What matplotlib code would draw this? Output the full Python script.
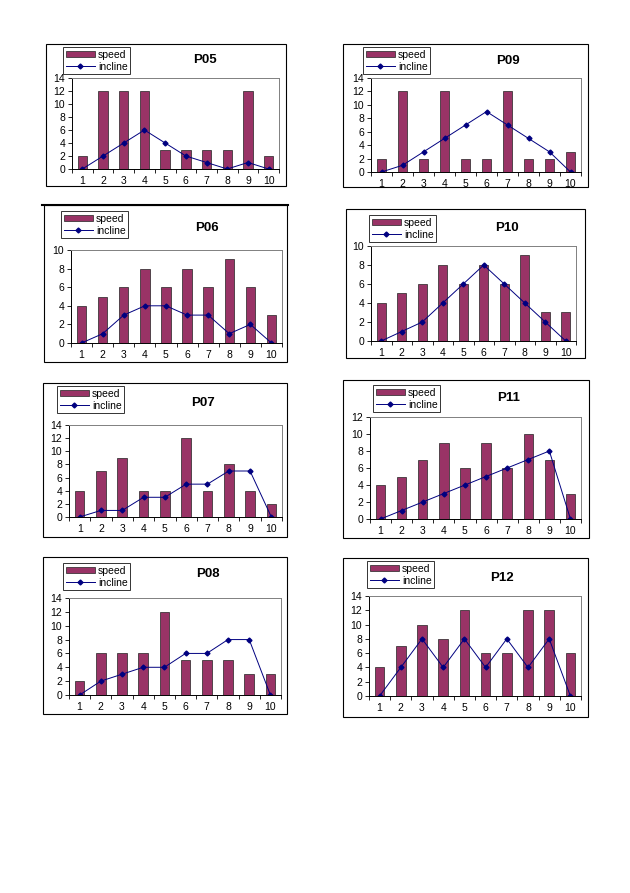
import matplotlib
matplotlib.use("Agg")
import matplotlib.pyplot as plt
from matplotlib.patches import Rectangle
from matplotlib.lines import Line2D

plt.rcParams['font.family'] = ['Liberation Sans', 'DejaVu Sans']

# data
steps = [1, 2, 3, 4, 5, 6, 7, 8, 9, 10]

p05_speed = [2, 12, 12, 12, 3, 3, 3, 3, 12, 2]
p05_incline = [0, 2, 4, 6, 4, 2, 1, 0, 1, 0]
p09_speed = [2, 12, 2, 12, 2, 2, 12, 2, 2, 3]
p09_incline = [0, 1, 3, 5, 7, 9, 7, 5, 3, 0]
p06_speed = [4, 5, 6, 8, 6, 8, 6, 9, 6, 3]
p06_incline = [0, 1, 3, 4, 4, 3, 3, 1, 2, 0]
p10_speed = [4, 5, 6, 8, 6, 8, 6, 9, 3, 3]
p10_incline = [0, 1, 2, 4, 6, 8, 6, 4, 2, 0]
p07_speed = [4, 7, 9, 4, 4, 12, 4, 8, 4, 2]
p07_incline = [0, 1, 1, 3, 3, 5, 5, 7, 7, 0]
p11_speed = [4, 5, 7, 9, 6, 9, 6, 10, 7, 3]
p11_incline = [0, 1, 2, 3, 4, 5, 6, 7, 8, 0]
p08_speed = [2, 6, 6, 6, 12, 5, 5, 5, 3, 3]
p08_incline = [0, 2, 3, 4, 4, 6, 6, 8, 8, 0]
p12_speed = [4, 7, 10, 8, 12, 6, 6, 12, 12, 6]
p12_incline = [0, 4, 8, 4, 8, 4, 8, 4, 8, 0]

W, H = 630, 893
fig = plt.figure(figsize=(W / 100, H / 100), dpi=100)

BAR = '#993366'
LINE = '#000080'


def fx(x):
    return x / W


def fy(y):
    return 1 - y / H


def panel(name, speed, incline, ymax, frame, plot, leg, title_xy):
    # outer frame of the little chart
    fl, ft, fr, fb = frame
    fig.patches.append(Rectangle((fx(fl), fy(fb)), fx(fr - fl), (fb - ft) / H,
                                 transform=fig.transFigure, fill=False,
                                 edgecolor='black', linewidth=0.8))
    pl, pt, pr, pb = plot
    ax = fig.add_axes([fx(pl), fy(pb), fx(pr - pl), (pb - pt) / H])
    bars = ax.bar(steps, speed, width=0.45, color=BAR, edgecolor='#222222',
                  linewidth=0.5, label='speed')
    ln, = ax.plot(steps, incline, color=LINE, linewidth=0.7, marker='D',
                  markersize=2.5, label='incline')
    ax.set_xlim(0.5, 10.5)
    ax.set_ylim(0, ymax)
    ax.set_yticks(range(0, ymax + 1, 2))
    ax.set_xticks(steps)
    ax.set_xticks([s + 0.5 for s in range(0, 11)], minor=True)
    ax.tick_params(axis='x', which='major', length=0, labelsize=7.5, pad=5)
    ax.tick_params(axis='x', which='minor', length=3, direction='out', width=0.6)
    ax.tick_params(axis='y', length=3, direction='out', labelsize=7.5, pad=2, width=0.6)
    ax.spines['top'].set_color('#808080')
    ax.spines['right'].set_color('#808080')
    for s in ['top', 'right', 'left', 'bottom']:
        ax.spines[s].set_linewidth(0.7)

    ll, lt, lr, lb = leg
    lg = ax.legend(handles=[bars, ln], loc='upper left',
                   bbox_to_anchor=(fx(ll), fy(lt)), bbox_transform=fig.transFigure,
                   fontsize=7.5, frameon=True, fancybox=False, borderpad=0.25,
                   labelspacing=0.2, handlelength=2.8, handleheight=0.6,
                   handletextpad=0.3, borderaxespad=0)
    lg.get_frame().set_edgecolor('black')
    lg.get_frame().set_linewidth(0.7)
    fig.text(fx(title_xy[0]), fy(title_xy[1]), name, ha='center', va='center',
             fontsize=9.5, fontweight='bold')
    return ax


panel('P05', p05_speed, p05_incline, 14, (46, 44, 286, 186), (72, 78, 279, 169),
      (63, 47, 132, 74), (205, 60))
panel('P09', p09_speed, p09_incline, 14, (343, 44, 588, 187), (371, 78, 581, 172),
      (363, 47, 434, 74), (508, 61))
panel('P06', p06_speed, p06_incline, 10, (44, 205, 287, 362), (71, 250, 282, 343),
      (61, 211, 132, 240), (207, 228))
panel('P10', p10_speed, p10_incline, 10, (346, 209, 585, 358), (371, 246, 576, 341),
      (369, 215, 438, 242), (507, 228))
panel('P07', p07_speed, p07_incline, 14, (43, 383, 287, 537), (69, 425, 282, 517),
      (57, 386, 127, 414), (203, 403))
panel('P11', p11_speed, p11_incline, 12, (343, 380, 589, 538), (370, 417, 581, 519),
      (373, 385, 438, 411), (509, 398))
panel('P08', p08_speed, p08_incline, 14, (43, 557, 287, 714), (69, 598, 281, 695),
      (63, 563, 131, 590), (208, 574))
panel('P12', p12_speed, p12_incline, 14, (343, 558, 588, 717), (369, 596, 581, 696),
      (367, 561, 437, 590), (502, 578))

# heavier rule above P06
fig.lines.append(Line2D([fx(42), fx(288)], [fy(205), fy(205)],
                        transform=fig.transFigure, color='black', linewidth=1.5))

fig.savefig('out.png', dpi=100)
